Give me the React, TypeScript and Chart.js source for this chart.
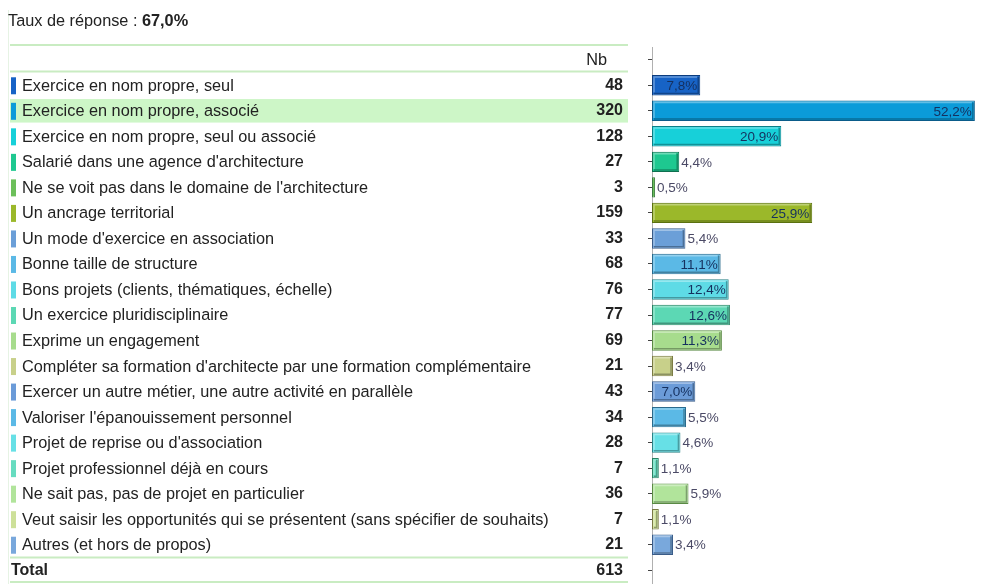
import React, { useEffect, useRef } from "react";
import { Chart, registerables } from "chart.js";

Chart.register(...registerables);

const RESPONSE_LABEL = "Taux de réponse : ";
const RESPONSE_RATE = "67,0%";
const COUNT_HEADER = "Nb";
const TOTAL_LABEL = "Total";
const TOTAL = 613;

const CATEGORIES = [
  "Exercice en nom propre, seul",
  "Exercice en nom propre, associé",
  "Exercice en nom propre, seul ou associé",
  "Salarié dans une agence d'architecture",
  "Ne se voit pas dans le domaine de l'architecture",
  "Un ancrage territorial",
  "Un mode d'exercice en association",
  "Bonne taille de structure",
  "Bons projets (clients, thématiques, échelle)",
  "Un exercice pluridisciplinaire",
  "Exprime un engagement",
  "Compléter sa formation d'architecte par une formation complémentaire",
  "Exercer un autre métier, une autre activité en parallèle",
  "Valoriser l'épanouissement personnel",
  "Projet de reprise ou d'association",
  "Projet professionnel déjà en cours",
  "Ne sait pas, pas de projet en particulier",
  "Veut saisir les opportunités qui se présentent (sans spécifier de souhaits)",
  "Autres (et hors de propos)",
];

const COUNTS = [48, 320, 128, 27, 3, 159, 33, 68, 76, 77, 69, 21, 43, 34, 28, 7, 36, 7, 21];

const PERCENTS = [7.8, 52.2, 20.9, 4.4, 0.5, 25.9, 5.4, 11.1, 12.4, 12.6, 11.3, 3.4, 7.0, 5.5, 4.6, 1.1, 5.9, 1.1, 3.4];

const HIGHLIGHT_ROW = 1;

const FILLS = [
  "#1763c6", "#0b9bd9", "#17d0d9", "#1ec890", "#6cbf5a", "#9bb82a",
  "#6b9fd8", "#5bb9e6", "#5edbe6", "#5cd8b4", "#a7dc8d", "#c8d08a",
  "#6b9bd8", "#5bb9e6", "#67e0e6", "#67dcc0", "#b1e49b", "#cde099", "#79a8dc",
];

const EDGES = [
  "#0c3c7e", "#0a5c8a", "#0a8088", "#0f7050", "#3a7a40", "#5a7010",
  "#3a5c88", "#2a6a8c", "#2a8286", "#2a8062", "#5a8a44", "#7a7a44",
  "#3a5c88", "#2a6a8c", "#2a8286", "#2a8062", "#5a8a44", "#7a7a44", "#3a5c88",
];

const FONT = '"Liberation Sans", Arial, sans-serif';

function fmtPct(v: number) {
  return v.toFixed(1).replace(".", ",") + "%";
}

function shade(hex: string, amt: number) {
  const n = parseInt(hex.slice(1), 16);
  let r = (n >> 16) & 255, g = (n >> 8) & 255, b = n & 255;
  if (amt >= 0) {
    r = Math.round(r + (255 - r) * amt);
    g = Math.round(g + (255 - g) * amt);
    b = Math.round(b + (255 - b) * amt);
  } else {
    r = Math.round(r * (1 + amt));
    g = Math.round(g * (1 + amt));
    b = Math.round(b * (1 + amt));
  }
  return `rgb(${r},${g},${b})`;
}

export default function App() {
  const ref = useRef<HTMLCanvasElement>(null);

  useEffect(() => {
    if (!ref.current) return;
    const labels = ["", ...CATEGORIES, TOTAL_LABEL];
    const data: (number | null)[] = [null, ...PERCENTS, null];
    const fills = ["#fff", ...FILLS, "#fff"];
    const edges = ["#fff", ...EDGES, "#fff"];

    const tablePlugin = {
      id: "tablePlugin",
      beforeDatasetsDraw(chart: any) {
        const ctx = chart.ctx as CanvasRenderingContext2D;
        const ys = chart.scales.y;
        const half = (ys.getPixelForValue(1) - ys.getPixelForValue(0)) / 2;
        ctx.save();
        // highlighted row
        const yh = ys.getPixelForValue(HIGHLIGHT_ROW + 1);
        ctx.fillStyle = "#cdf6c7";
        ctx.fillRect(10, yh - half + 1, 618, half * 2 - 2);

        // faint left border
        ctx.strokeStyle = "#e6f3e4";
        ctx.lineWidth = 1;
        ctx.beginPath();
        ctx.moveTo(8.5, 10);
        ctx.lineTo(8.5, 584);
        ctx.stroke();

        // green separator lines
        ctx.strokeStyle = "#c9ecc2";
        ctx.lineWidth = 2;
        const top = ys.getPixelForValue(0);
        const last = ys.getPixelForValue(labels.length - 1);
        const lineYs = [top - half - 2, top + half - 1, last - half, last + half - 1];
        lineYs.forEach((ly) => {
          ctx.beginPath();
          ctx.moveTo(10, ly);
          ctx.lineTo(628, ly);
          ctx.stroke();
        });

        // title
        ctx.textBaseline = "middle";
        ctx.fillStyle = "#222";
        ctx.font = `16.3px ${FONT}`;
        ctx.textAlign = "left";
        ctx.fillText(RESPONSE_LABEL, 8, 22);
        const w = ctx.measureText(RESPONSE_LABEL).width;
        ctx.font = `bold 16.3px ${FONT}`;
        ctx.fillText(RESPONSE_RATE, 8 + w, 22);

        // header
        ctx.font = `16.3px ${FONT}`;
        ctx.textAlign = "right";
        ctx.fillText(COUNT_HEADER, 607, top + 1);

        // rows
        CATEGORIES.forEach((cat, i) => {
          const yc = ys.getPixelForValue(i + 1);
          ctx.fillStyle = FILLS[i];
          ctx.fillRect(11, yc - 8, 5, 17);
          ctx.fillStyle = "#222";
          ctx.font = `16.3px ${FONT}`;
          ctx.textAlign = "left";
          ctx.fillText(cat, 22, yc + 1);
          ctx.font = `bold 16px ${FONT}`;
          ctx.textAlign = "right";
          ctx.fillText(String(COUNTS[i]), 623, yc);
        });

        // total
        ctx.font = `bold 16px ${FONT}`;
        ctx.textAlign = "left";
        ctx.fillText(TOTAL_LABEL, 11, last);
        ctx.textAlign = "right";
        ctx.fillText(String(TOTAL), 623, last);
        ctx.restore();
      },
      afterDatasetsDraw(chart: any) {
        const ctx = chart.ctx as CanvasRenderingContext2D;
        const meta = chart.getDatasetMeta(0);
        ctx.save();
        ctx.font = `13.5px ${FONT}`;
        ctx.textBaseline = "middle";
        PERCENTS.forEach((v, i) => {
          const el = meta.data[i + 1] as any;
          if (!el) return;
          const { x, y, base, height } = el.getProps(["x", "y", "base", "height"], true);
          const left = Math.min(x, base);
          const right = Math.max(x, base);
          const topY = y - height / 2;
          const botY = y + height / 2;
          // bevel
          if (right - left > 4) {
            ctx.lineWidth = 1.5;
            ctx.strokeStyle = shade(FILLS[i], 0.35);
            ctx.beginPath();
            ctx.moveTo(left + 2, botY - 3);
            ctx.lineTo(left + 2, topY + 2);
            ctx.lineTo(right - 3, topY + 2);
            ctx.stroke();
            ctx.strokeStyle = shade(FILLS[i], -0.3);
            ctx.beginPath();
            ctx.moveTo(left + 2, botY - 2);
            ctx.lineTo(right - 2, botY - 2);
            ctx.lineTo(right - 2, topY + 2);
            ctx.stroke();
          }
          const txt = fmtPct(v);
          if (v > 6.5) {
            ctx.fillStyle = "#15305e";
            ctx.textAlign = "right";
            ctx.fillText(txt, right - 3, y + 1);
          } else {
            ctx.fillStyle = "#4b4a66";
            ctx.textAlign = "left";
            ctx.fillText(txt, right + 2, y + 1);
          }
        });
        ctx.restore();
      },
    };

    const chart = new Chart(ref.current, {
      type: "bar",
      data: {
        labels,
        datasets: [
          {
            data,
            backgroundColor: fills,
            borderColor: edges,
            borderWidth: 1,
            borderSkipped: false,
            barPercentage: 0.8,
            categoryPercentage: 1,
          },
        ],
      },
      options: {
        indexAxis: "y",
        responsive: false,
        animation: false,
        devicePixelRatio: 1,
        layout: { padding: { top: 47, bottom: 1, right: 4, left: 0 } },
        plugins: {
          legend: { display: false },
          tooltip: { enabled: false },
        },
        scales: {
          x: { display: false, min: 0, max: 54 },
          y: {
            position: "left",
            offset: true,
            ticks: { display: false },
            grid: {
              drawOnChartArea: false,
              drawTicks: true,
              tickLength: 4,
              color: "#444",
              offset: false,
            },
            border: { display: true, color: "#b0b0b0", width: 1 },
            afterFit: (scale: any) => {
              scale.width = 652;
            },
          },
        },
      },
      plugins: [tablePlugin],
    } as any);

    return () => chart.destroy();
  }, []);

  return (
    <div style={{ position: "fixed", left: 0, top: 0, width: 990, height: 584, background: "#fff" }}>
      <canvas ref={ref} width={990} height={584} style={{ display: "block" }} />
    </div>
  );
}
